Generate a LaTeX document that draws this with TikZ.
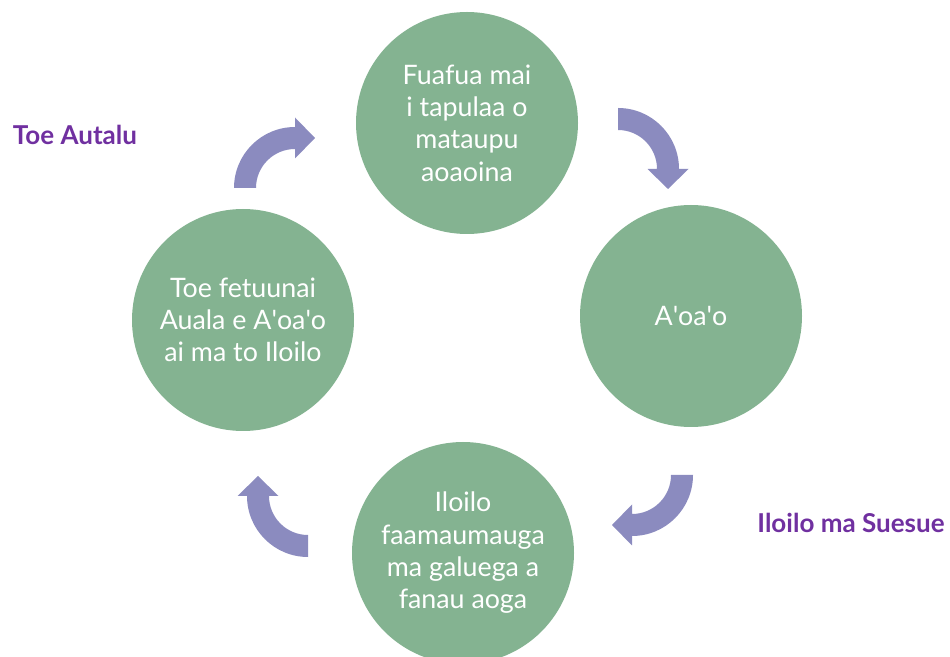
\documentclass[tikz,border=0pt]{standalone}
\usepackage{fontspec}
\setmainfont{Lato}
\usetikzlibrary{calc}
\definecolor{phasegreen}{HTML}{84B391}
\definecolor{turnblue}{HTML}{8B8BBF}
\definecolor{labelpurple}{HTML}{7030A0}
\newcommand{\ap}{\textquotesingle}
\tikzset{
  phase/.style={circle,fill=phasegreen,text=white,minimum size=222pt,inner sep=0pt,
    align=center,font=\fontsize{26.8}{32.3}\selectfont},
  cyclelabel/.style={text=labelpurple,font=\fontsize{26}{30}\selectfont\bfseries},
  turn/.style={fill=turnblue}
}
\begin{document}
\begin{tikzpicture}[x=1pt,y=1pt]
  \useasboundingbox (0,0) rectangle (950,656);
  \node[phase] (plan)   at (467,533) {Fuafua mai\\i tapulaa o\\mataupu\\aoaoina};
  \node[phase] (teach)  at (691,340) {A\ap oa\ap o};
  \node[phase] (assess) at (463,103) {Iloilo\\faamaumauga\\ma galuega a\\fanau aoga};
  \node[phase] (adjust) at (243,336) {Toe fetuunai\\Auala e A\ap oa\ap o\\ai ma to Iloilo};

  % arrow centres between the circles
  \coordinate (c1) at (295,468);
  \coordinate (c2) at (618,487);
  \coordinate (c3) at (632,181);
  \coordinate (c4) at (308,160);
  \foreach \c/\s in {c1/180,c2/90,c3/0,c4/-90}{
    \pgfmathsetmacro\e{\s-90}
    \fill[turn] ($(\c)+(\s:61)$) arc[start angle=\s,end angle=\e,radius=61]
      -- ($(\c)+(\e:70.5)$) -- ($(\c)+(\e:50)+(\e-90:20)$) -- ($(\c)+(\e:29.5)$)
      -- ($(\c)+(\e:39)$) arc[start angle=\e,end angle=\s,radius=39] -- cycle;
  }

  \node[cyclelabel] (redo)   at (75,521)  {Toe Autalu};
  \node[cyclelabel] (review) at (851,133) {Iloilo ma Suesue};
\end{tikzpicture}
\end{document}
